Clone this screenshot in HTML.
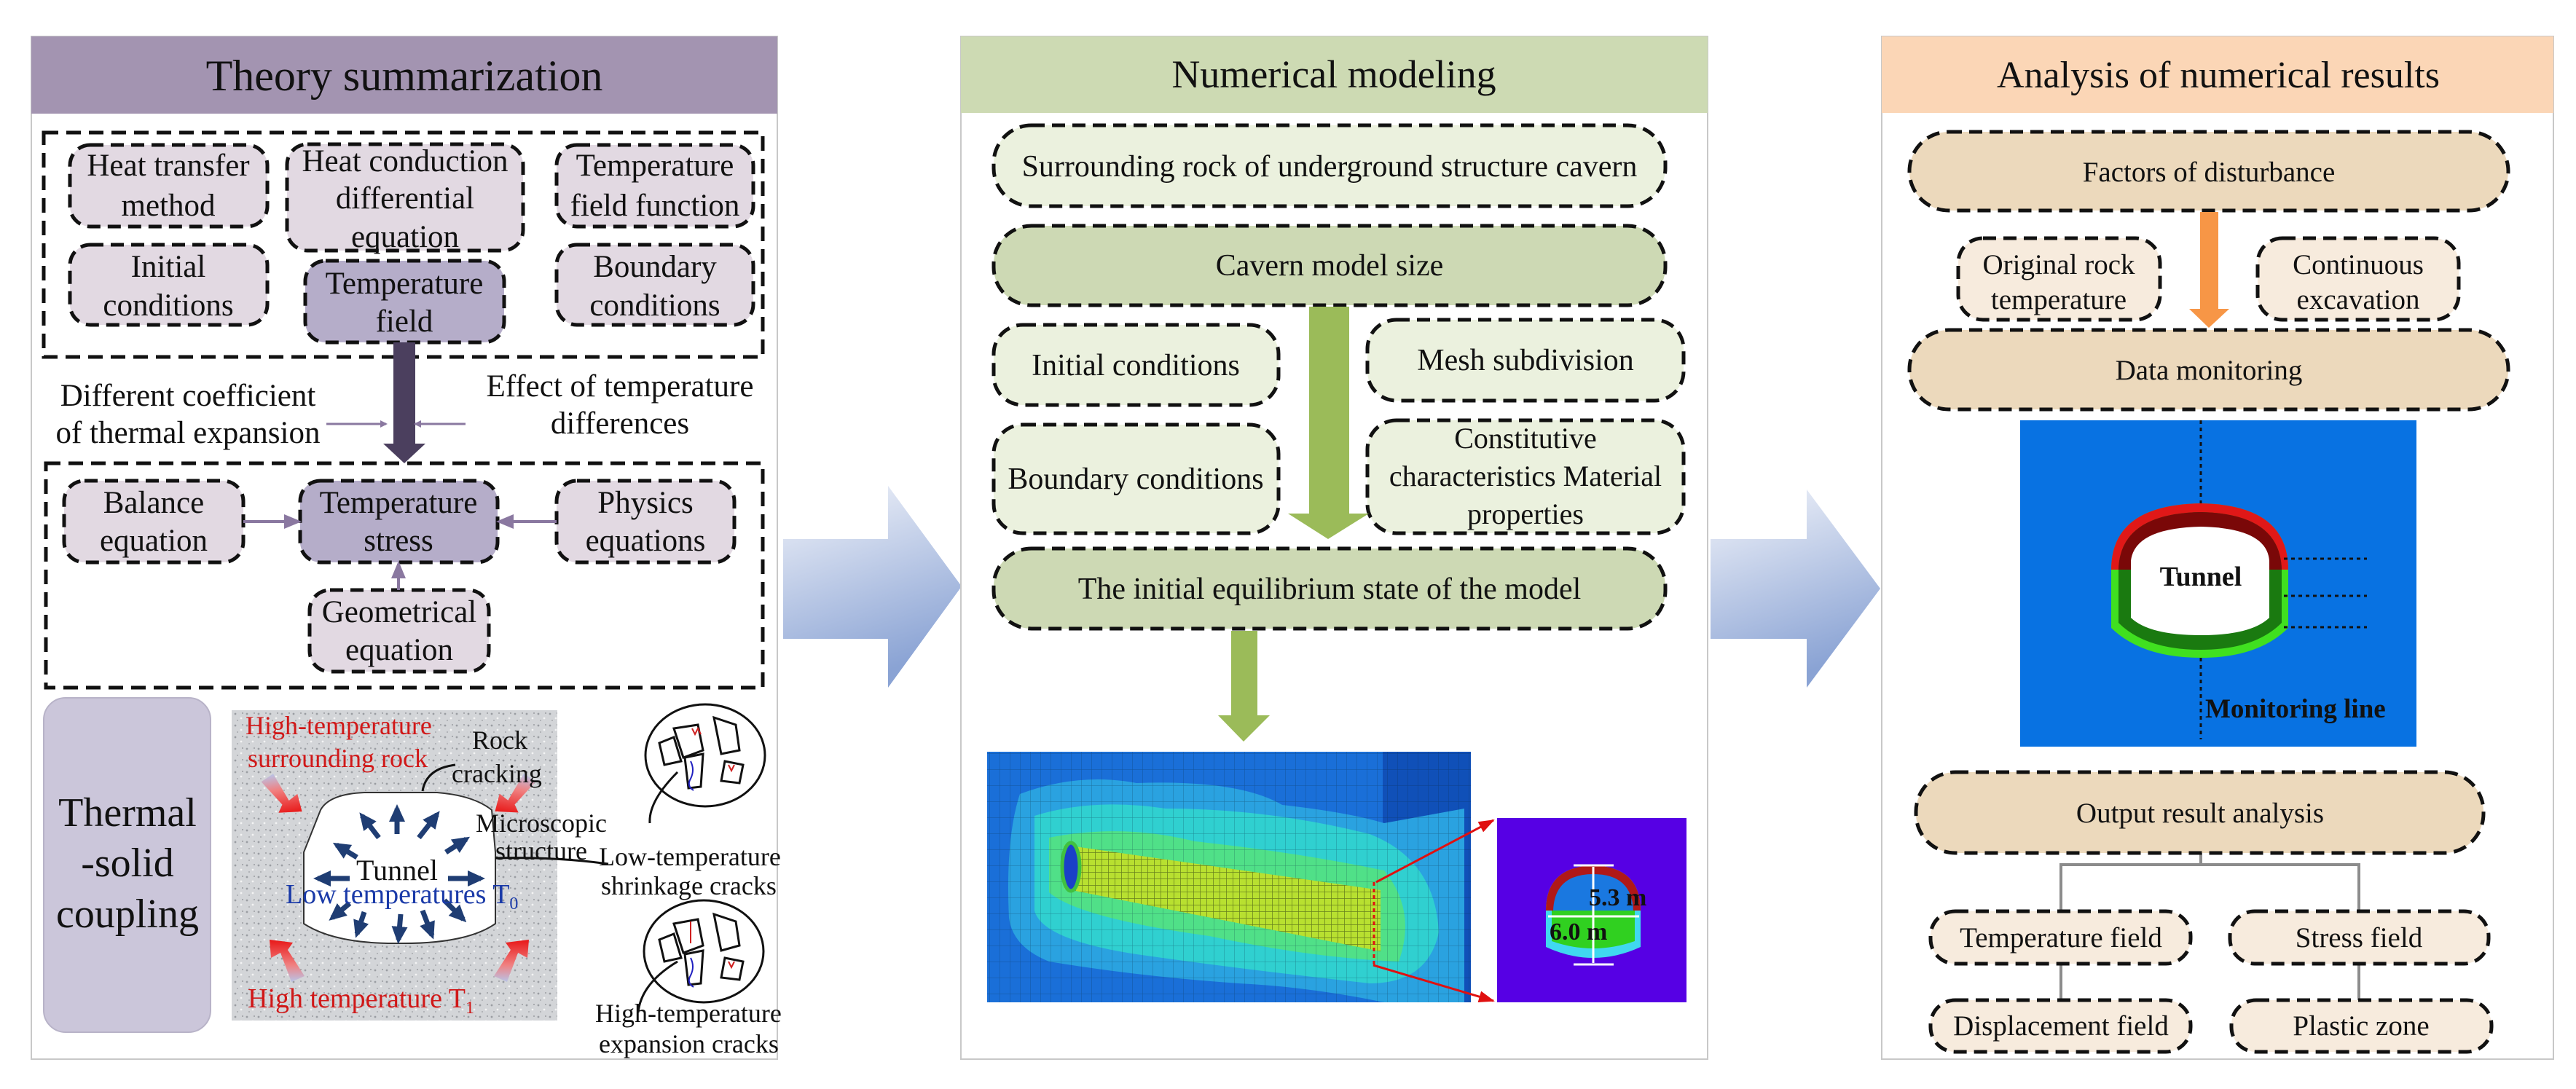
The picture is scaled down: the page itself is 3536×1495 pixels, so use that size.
<!DOCTYPE html>
<html><head><meta charset="utf-8"><style>
html,body{margin:0;padding:0;background:#fff;width:3536px;height:1495px;overflow:hidden}
svg text{font-family:"Liberation Serif",serif;fill:#111}
</style></head><body>
<svg width="3536" height="1495" viewBox="0 0 3536 1495" xmlns="http://www.w3.org/2000/svg" font-family="Liberation Serif, serif">
<defs>
<linearGradient id="bg" x1="0" y1="0" x2="0.3" y2="1">
<stop offset="0" stop-color="#f2f4fa"/><stop offset="1" stop-color="#8aa3d4"/></linearGradient>
<linearGradient id="rg" x1="0" y1="1" x2="0" y2="0"><stop offset="0" stop-color="#e81818"/><stop offset="0.6" stop-color="#f08080"/><stop offset="1" stop-color="#b8c4e8"/></linearGradient>
<pattern id="speck" width="16" height="16" patternUnits="userSpaceOnUse">
<rect width="16" height="16" fill="#d3d5d8"/><circle cx="3" cy="4" r="1.4" fill="#9a9da2"/><circle cx="11" cy="10" r="1.4" fill="#f4f4f4"/><circle cx="6" cy="13" r="1" fill="#a8aaae"/><circle cx="13" cy="3" r="0.9" fill="#8a8c90"/></pattern>
<pattern id="mesh" width="14" height="22" patternUnits="userSpaceOnUse"><path d="M0 0V22M0 0H14" stroke="#0a2a40" stroke-width="1" opacity="0.4" fill="none"/></pattern>
<pattern id="mesh2" width="9" height="9" patternUnits="userSpaceOnUse"><path d="M0 0V9M0 0H9" stroke="#304010" stroke-width="1.5" opacity="0.6" fill="none"/></pattern>
<clipPath id="femc"><rect x="1355" y="1032" width="664" height="344"/></clipPath>
<marker id="pa" markerWidth="10" markerHeight="10" refX="8" refY="5" orient="auto" markerUnits="userSpaceOnUse"><path d="M0,0 L10,5 L0,10z" fill="#8a78a0"/></marker>
<marker id="pb" markerWidth="24" markerHeight="20" refX="20" refY="10" orient="auto" markerUnits="userSpaceOnUse"><path d="M0,0 L24,10 L0,20z" fill="#8a78a0"/></marker>
<marker id="na" markerWidth="24" markerHeight="22" refX="18" refY="11" orient="auto" markerUnits="userSpaceOnUse"><path d="M0,0 L24,11 L0,22z" fill="#1f3d73"/></marker>
<marker id="ra" markerWidth="22" markerHeight="16" refX="20" refY="8" orient="auto" markerUnits="userSpaceOnUse"><path d="M0,0 L22,8 L0,16z" fill="#e01010"/></marker>
</defs>

<path d="M1075,740H1219V667L1320,805L1219,944V877H1075z" fill="url(#bg)"/>
<path d="M2348,740H2480V672L2581,808L2480,944V877H2348z" fill="url(#bg)"/>

<!-- PANEL 1 -->
<rect x="43" y="50" width="1024" height="1404" fill="#fff" stroke="#c8c8c8" stroke-width="2"/>
<rect x="43" y="50" width="1024" height="106" fill="#a394b1"/>
<text x="555" y="124" font-size="60" text-anchor="middle">Theory summarization</text>
<g fill="none" stroke="#111" stroke-width="5" stroke-dasharray="20 11">
<rect x="60" y="182" width="987" height="308"/>
<rect x="63" y="636" width="984" height="308"/>
</g>
<g stroke="#111" stroke-width="5" stroke-dasharray="18 10">
<rect x="96" y="199" width="271" height="112" rx="28" fill="#e2d9e2"/>
<rect x="394" y="198" width="324" height="146" rx="28" fill="#e2d9e2"/>
<rect x="764" y="199" width="270" height="112" rx="28" fill="#e2d9e2"/>
<rect x="96" y="336" width="271" height="110" rx="28" fill="#e2d9e2"/>
<rect x="419" y="358" width="273" height="112" rx="28" fill="#b5adc9"/>
<rect x="764" y="336" width="270" height="110" rx="28" fill="#e2d9e2"/>
<rect x="88" y="660" width="246" height="112" rx="28" fill="#e2d9e2"/>
<rect x="412" y="660" width="271" height="112" rx="28" fill="#b5adc9"/>
<rect x="764" y="660" width="244" height="112" rx="28" fill="#e2d9e2"/>
<rect x="425" y="810" width="246" height="112" rx="28" fill="#e2d9e2"/>
</g>
<g font-size="43" text-anchor="middle">
<text x="231" y="241">Heat transfer</text><text x="231" y="296">method</text>
<text x="556" y="235">Heat conduction</text><text x="556" y="286">differential</text><text x="556" y="339">equation</text>
<text x="899" y="241">Temperature</text><text x="899" y="296">field function</text>
<text x="231" y="380">Initial</text><text x="231" y="433">conditions</text>
<text x="555" y="403">Temperature</text><text x="555" y="455">field</text>
<text x="899" y="380">Boundary</text><text x="899" y="433">conditions</text>
<text x="258" y="557">Different coefficient</text><text x="258" y="608">of thermal expansion</text>
<text x="851" y="544">Effect of temperature</text><text x="851" y="595">differences</text>
<text x="211" y="704">Balance</text><text x="211" y="756">equation</text>
<text x="547" y="704">Temperature</text><text x="547" y="756">stress</text>
<text x="886" y="704">Physics</text><text x="886" y="756">equations</text>
<text x="548" y="854">Geometrical</text><text x="548" y="906">equation</text>
</g>
<rect x="540" y="470" width="30" height="140" fill="#4b3f5e"/>
<polygon points="526,609 584,609 555,636" fill="#4b3f5e"/>
<g stroke="#8a78a0" stroke-width="3" fill="none">
<line x1="448" y1="582" x2="530" y2="582" marker-end="url(#pa)"/>
<line x1="639" y1="582" x2="570" y2="582" marker-end="url(#pa)"/>
</g>
<g stroke="#8a78a0" stroke-width="4" fill="none">
<line x1="334" y1="716" x2="410" y2="716" marker-end="url(#pb)"/>
<line x1="764" y1="716" x2="685" y2="716" marker-end="url(#pb)"/>
<line x1="547" y1="810" x2="547" y2="774" marker-end="url(#pb)"/>
</g>
<rect x="60" y="958" width="229" height="459" rx="30" fill="#cbc6da" stroke="#b8b3c8" stroke-width="2"/>
<g font-size="56" text-anchor="middle"><text x="175" y="1134">Thermal</text><text x="175" y="1203">-solid</text><text x="175" y="1273">coupling</text></g>
<rect x="318" y="975" width="447" height="426" fill="url(#speck)"/>
<path d="M440,1112 Q452,1090 500,1088 L600,1088 Q650,1092 675,1112 L680,1170 L680,1268 Q640,1296 547,1295 Q460,1296 417,1268 L417,1170 Z" fill="#fff" stroke="#333" stroke-width="2"/>
<g stroke="#1f3d73" stroke-width="7" fill="none">
<line x1="545" y1="1145" x2="545" y2="1110" marker-end="url(#na)"/>
<line x1="520" y1="1150" x2="497" y2="1120" marker-end="url(#na)"/>
<line x1="575" y1="1150" x2="600" y2="1118" marker-end="url(#na)"/>
<line x1="490" y1="1177" x2="462" y2="1160" marker-end="url(#na)"/>
<line x1="612" y1="1170" x2="640" y2="1152" marker-end="url(#na)"/>
<line x1="480" y1="1206" x2="436" y2="1206" marker-end="url(#na)"/>
<line x1="615" y1="1206" x2="660" y2="1206" marker-end="url(#na)"/>
<line x1="480" y1="1240" x2="456" y2="1260" marker-end="url(#na)"/>
<line x1="500" y1="1252" x2="490" y2="1282" marker-end="url(#na)"/>
<line x1="550" y1="1255" x2="547" y2="1290" marker-end="url(#na)"/>
<line x1="580" y1="1250" x2="593" y2="1284" marker-end="url(#na)"/>
<line x1="610" y1="1236" x2="636" y2="1262" marker-end="url(#na)"/>
</g>
<g>
<polygon points="362,1068 380,1060 395,1100 408,1093 410,1118 378,1114 385,1104" fill="url(#rg)" transform="rotate(-10 390 1090)"/>
<polygon points="732,1068 714,1060 699,1100 686,1093 684,1118 716,1114 709,1104" fill="url(#rg)" transform="rotate(10 705 1090)"/>
<g transform="rotate(180 390 1318)"><polygon points="362,1296 380,1288 395,1328 408,1321 410,1346 378,1342 385,1332" fill="url(#rg)"/></g>
<g transform="rotate(180 705 1318)"><polygon points="732,1296 714,1288 699,1328 686,1321 684,1346 716,1342 709,1332" fill="url(#rg)"/></g>
</g>
<g font-size="36">
<text x="337" y="1008" style="fill:#d01818">High-temperature</text>
<text x="340" y="1053" style="fill:#d01818">surrounding rock</text>
<text x="648" y="1028">Rock</text><text x="620" y="1074">cracking</text>
<text x="653" y="1142">Microscopic</text><text x="680" y="1180">structure</text>
<text x="822" y="1188">Low-temperature</text><text x="825" y="1228">shrinkage cracks</text>
<text x="545" y="1208" text-anchor="middle" font-size="40">Tunnel</text>
<text x="392" y="1240" style="fill:#1a3aa8" font-size="38">Low temperatures T<tspan font-size="24" dy="8">0</tspan></text>
<text x="340" y="1383" style="fill:#d01818" font-size="38">High temperature T<tspan font-size="24" dy="8">1</tspan></text>
<text x="817" y="1403">High-temperature</text><text x="822" y="1445">expansion cracks</text>
</g>
<path d="M680,1178 Q760,1176 835,1186" stroke="#111" stroke-width="3" fill="none"/>
<path d="M580,1086 Q585,1055 625,1050" stroke="#111" stroke-width="3" fill="none"/>
<g stroke="#111" stroke-width="3" fill="none">
<ellipse cx="968" cy="1037" rx="82" ry="70"/>
<ellipse cx="966" cy="1306" rx="82" ry="70"/>
<polygon points="925,1000 958,995 965,1030 938,1040"/><polygon points="980,985 1010,995 1015,1030 990,1035"/>
<polygon points="905,1020 925,1012 935,1045 912,1050"/><polygon points="995,1045 1020,1050 1015,1075 990,1072"/>
<polygon points="940,1040 965,1035 962,1080 945,1082"/>
<polygon points="925,1268 958,1262 965,1298 938,1308"/><polygon points="980,1255 1010,1265 1015,1298 990,1305"/>
<polygon points="905,1290 925,1282 935,1315 912,1320"/><polygon points="995,1315 1020,1320 1015,1345 990,1342"/>
<polygon points="940,1310 965,1305 962,1350 945,1352"/>
<path d="M930,1060 Q890,1100 892,1130"/><path d="M930,1320 Q880,1350 876,1390"/>
</g>
<g stroke="#d02020" stroke-width="2" fill="none"><path d="M950,1000 l4,8 l4,-8 l4,8"/><path d="M1000,1050 l4,8 l4,-8"/><path d="M948,1265 v30"/><path d="M1000,1320 l4,8 l4,-8"/></g>
<g stroke="#2020c0" stroke-width="2" fill="none"><path d="M948,1045 q6,12 0,24 q-6,10 4,16"/><path d="M948,1315 q6,12 0,24 q-6,10 4,16"/></g>

<!-- PANEL 2 -->
<rect x="1319" y="50" width="1025" height="1404" fill="#fff" stroke="#c8c8c8" stroke-width="2"/>
<rect x="1319" y="50" width="1025" height="105" fill="#cddab3"/>
<text x="1831" y="120" font-size="54" text-anchor="middle">Numerical modeling</text>
<g stroke="#111" stroke-width="5" stroke-dasharray="18 10">
<rect x="1364" y="172" width="922" height="111" rx="52" fill="#ebf1de"/>
<rect x="1364" y="310" width="922" height="109" rx="52" fill="#cdd9b4"/>
<rect x="1364" y="446" width="391" height="110" rx="40" fill="#ebf1de"/>
<rect x="1877" y="439" width="434" height="111" rx="40" fill="#ebf1de"/>
<rect x="1364" y="583" width="391" height="149" rx="40" fill="#ebf1de"/>
<rect x="1877" y="577" width="434" height="155" rx="40" fill="#ebf1de"/>
<rect x="1364" y="753" width="922" height="110" rx="52" fill="#cdd9b4"/>
</g>
<g font-size="42" text-anchor="middle">
<text x="1825" y="242">Surrounding rock of underground structure cavern</text>
<text x="1825" y="378">Cavern model size</text>
<text x="1559" y="515">Initial conditions</text>
<text x="2094" y="508">Mesh subdivision</text>
<text x="1559" y="671">Boundary conditions</text>
<text x="2094" y="615" font-size="40">Constitutive</text>
<text x="2094" y="667" font-size="40">characteristics Material</text>
<text x="2094" y="719" font-size="40">properties</text>
<text x="1825" y="822">The initial equilibrium state of the model</text>
</g>
<rect x="1797" y="421" width="55" height="286" fill="#9bbb59"/>
<polygon points="1768,705 1879,705 1823,740" fill="#9bbb59"/>
<rect x="1690" y="866" width="36" height="118" fill="#9bbb59"/>
<polygon points="1672,982 1743,982 1707,1018" fill="#9bbb59"/>
<!-- FEM -->
<g clip-path="url(#femc)">
<rect x="1355" y="1032" width="664" height="344" fill="#1a6fd8"/>
<path d="M1898,1032 H2019 V1376 H1898 Z" fill="#1050b8"/>
<path d="M1400,1090 Q1480,1060 1560,1075 Q1700,1070 1760,1105 Q1850,1115 1900,1130 L2010,1110 L2010,1376 L1900,1376 Q1800,1355 1700,1350 Q1560,1340 1440,1320 Q1390,1300 1385,1260 Q1380,1150 1400,1090 Z" fill="#2aa2e0"/>
<path d="M1420,1120 Q1500,1095 1600,1110 Q1740,1110 1880,1145 Q1970,1180 1975,1280 Q1960,1350 1880,1350 Q1700,1330 1560,1310 Q1430,1290 1420,1250 Z" fill="#30d0d0"/>
<path d="M1440,1150 Q1540,1130 1640,1155 Q1780,1170 1900,1195 Q1945,1250 1920,1320 Q1800,1315 1660,1285 Q1480,1260 1440,1225 Z" fill="#50e088"/>
<rect x="1355" y="1032" width="664" height="344" fill="url(#mesh)"/>
<path d="M1461,1160 L1895,1222 L1895,1306 L1461,1220 Z" fill="#b8e030"/>
<path d="M1461,1160 L1895,1222 L1895,1306 L1461,1220 Z" fill="url(#mesh2)"/>
<ellipse cx="1470" cy="1190" rx="12" ry="33" fill="#1a40c8" stroke="#40c040" stroke-width="5"/>
</g>
<line x1="1889" y1="1211" x2="2050" y2="1126" stroke="#e01010" stroke-width="3" marker-end="url(#ra)"/>
<line x1="1885" y1="1325" x2="2050" y2="1374" stroke="#e01010" stroke-width="3" marker-end="url(#ra)"/>
<line x1="1886" y1="1211" x2="1886" y2="1325" stroke="#e01010" stroke-width="3" stroke-dasharray="5 4"/>
<rect x="2055" y="1123" width="260" height="253" fill="#5600e4"/>
<path d="M2122,1250 Q2122,1190 2187,1188 Q2252,1190 2252,1250 L2252,1300 Q2187,1330 2122,1300 Z" fill="#40d8f0"/>
<path d="M2122,1250 Q2122,1190 2187,1188 Q2252,1190 2252,1250 Z" fill="#b01818"/>
<path d="M2132,1250 Q2134,1200 2187,1200 Q2240,1200 2242,1250 Z" fill="#1a78e0"/>
<path d="M2130,1250 H2244 V1292 Q2187,1312 2130,1292 Z" fill="#30d020"/>
<g stroke="#fff" stroke-width="3"><line x1="2160" y1="1188" x2="2215" y2="1188"/><line x1="2187" y1="1190" x2="2187" y2="1322"/><line x1="2160" y1="1324" x2="2215" y2="1324"/><line x1="2125" y1="1258" x2="2250" y2="1258"/></g>
<text x="2181" y="1243" font-size="34" font-weight="bold">5.3 m</text>
<text x="2127" y="1290" font-size="34" font-weight="bold">6.0 m</text>

<!-- PANEL 3 -->
<rect x="2583" y="50" width="922" height="1404" fill="#fff" stroke="#c8c8c8" stroke-width="2"/>
<rect x="2583" y="50" width="922" height="105" fill="#fbd6b6"/>
<text x="3045" y="120" font-size="52" text-anchor="middle">Analysis of numerical results</text>
<g stroke="#8c8c8c" stroke-width="4" fill="none">
<path d="M3021,1171 V1187 M2829,1251 V1187 H3238 V1251 M2829,1323 V1373 M3238,1323 V1373"/>
</g>
<g stroke="#111" stroke-width="5" stroke-dasharray="18 10">
<rect x="2621" y="181" width="822" height="108" rx="54" fill="#ecd9bc"/>
<rect x="2688" y="327" width="277" height="112" rx="34" fill="#f7ebdd"/>
<rect x="3099" y="327" width="276" height="112" rx="34" fill="#f7ebdd"/>
<rect x="2621" y="453" width="822" height="109" rx="54" fill="#ecd9bc"/>
<rect x="2630" y="1060" width="779" height="111" rx="54" fill="#ecd9bc"/>
<rect x="2650" y="1251" width="357" height="72" rx="34" fill="#f7ebdd"/>
<rect x="3061" y="1251" width="355" height="72" rx="34" fill="#f7ebdd"/>
<rect x="2650" y="1373" width="357" height="71" rx="34" fill="#f7ebdd"/>
<rect x="3063" y="1373" width="357" height="71" rx="34" fill="#f7ebdd"/>
</g>
<rect x="3020" y="291" width="25" height="135" fill="#f79646"/>
<polygon points="3005,424 3060,424 3032,450" fill="#f79646"/>
<g font-size="39" text-anchor="middle">
<text x="3032" y="249">Factors of disturbance</text>
<text x="2826" y="376">Original rock</text><text x="2826" y="424">temperature</text>
<text x="3237" y="376">Continuous</text><text x="3237" y="424">excavation</text>
<text x="3032" y="521">Data monitoring</text>
<text x="3020" y="1129">Output result analysis</text>
<text x="2829" y="1300">Temperature field</text>
<text x="3238" y="1300">Stress field</text>
<text x="2829" y="1421">Displacement field</text>
<text x="3241" y="1421">Plastic zone</text>
</g>
<rect x="2773" y="577" width="544" height="448" fill="#0872e2"/>
<path d="M2898,782 Q2898,693 3021,691 Q3141,693 3141,782 L3141,862 Q3100,903 3021,903 Q2940,903 2898,862 Z" fill="#40e020"/>
<path d="M2898,782 Q2898,693 3021,691 Q3141,693 3141,782 Z" fill="#e01818"/>
<path d="M2908,782 Q2910,705 3021,703 Q3130,705 3132,782 L3132,855 Q3095,892 3021,892 Q2945,892 2908,855 Z" fill="#1a7a10"/>
<path d="M2908,782 Q2910,705 3021,703 Q3130,705 3132,782 Z" fill="#7a0808"/>
<path d="M2925,770 Q2930,725 3021,723 Q3112,725 3115,770 L3115,848 Q3090,872 3021,872 Q2950,872 2925,848 Z" fill="#fff"/>
<g stroke="#111" stroke-width="3" stroke-dasharray="5 5">
<line x1="3021" y1="577" x2="3021" y2="691"/><line x1="3021" y1="903" x2="3021" y2="1015"/>
<line x1="3135" y1="767" x2="3249" y2="767"/><line x1="3135" y1="818" x2="3249" y2="818"/><line x1="3135" y1="861" x2="3249" y2="861"/>
</g>
<text x="3021" y="804" font-size="38" font-weight="bold" text-anchor="middle">Tunnel</text>
<text x="3027" y="985" font-size="37" font-weight="bold">Monitoring line</text>
</svg>
</body></html>
